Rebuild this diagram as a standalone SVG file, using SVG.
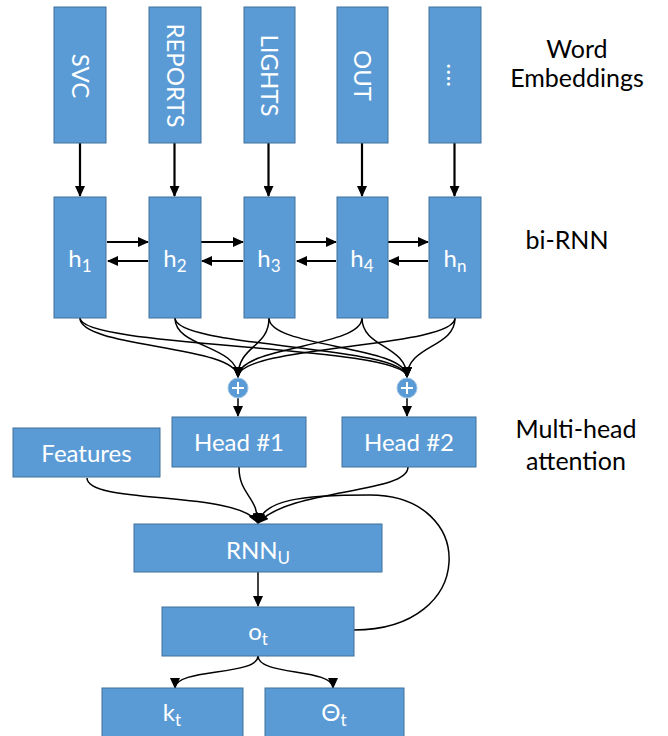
<svg xmlns="http://www.w3.org/2000/svg" width="668" height="736" viewBox="0 0 668 736">
<style>
.box{fill:#5B9BD5;stroke:#41719C;stroke-width:1}
.t{fill:#fff;font-family:Lato,"Open Sans",sans-serif;font-size:24px;text-anchor:middle}
.lbl{fill:#000;font-family:Lato,"Open Sans",sans-serif;font-size:25px;text-anchor:middle}
.c{fill:none;stroke:#000;stroke-width:1.5}
.a{fill:none;stroke:#000;stroke-width:2.2}
</style>
<defs>
<marker id="ah" markerUnits="userSpaceOnUse" markerWidth="11" markerHeight="10" refX="10" refY="5" orient="auto">
<path d="M0,0 L11,5 L0,10 z" fill="#000"/>
</marker>
</defs>
<rect width="668" height="736" fill="#fff"/>

<g id="connectors">
<path class="a" d="M80,143 V196" marker-end="url(#ah)"/>
<path class="a" d="M174.5,143 V196" marker-end="url(#ah)"/>
<path class="a" d="M268.5,143 V196" marker-end="url(#ah)"/>
<path class="a" d="M362,143 V196" marker-end="url(#ah)"/>
<path class="a" d="M454.5,143 V196" marker-end="url(#ah)"/>

<path class="a" d="M107,242 H148" marker-end="url(#ah)"/>
<path class="a" d="M201,242 H243" marker-end="url(#ah)"/>
<path class="a" d="M296,242 H336" marker-end="url(#ah)"/>
<path class="a" d="M388,242 H428" marker-end="url(#ah)"/>
<path class="a" d="M148,261 H108" marker-end="url(#ah)"/>
<path class="a" d="M243,261 H202" marker-end="url(#ah)"/>
<path class="a" d="M336,261 H297" marker-end="url(#ah)"/>
<path class="a" d="M428,261 H389" marker-end="url(#ah)"/>

<path class="c" d="M80,318 C80,348 238,345 238,377" marker-end="url(#ah)"/>
<path class="c" d="M175,318 C175,348 238,345 238,377" marker-end="url(#ah)"/>
<path class="c" d="M269,318 C269,348 238,345 238,377" marker-end="url(#ah)"/>
<path class="c" d="M362,318 C362,348 238,345 238,377" marker-end="url(#ah)"/>
<path class="c" d="M455,318 C455,348 238,345 238,377" marker-end="url(#ah)"/>
<path class="c" d="M80,318 C80,348 407,345 407,377" marker-end="url(#ah)"/>
<path class="c" d="M175,318 C175,348 407,345 407,377" marker-end="url(#ah)"/>
<path class="c" d="M269,318 C269,348 407,345 407,377" marker-end="url(#ah)"/>
<path class="c" d="M362,318 C362,348 407,345 407,377" marker-end="url(#ah)"/>
<path class="c" d="M455,318 C455,348 407,345 407,377" marker-end="url(#ah)"/>

<path class="c" d="M238,398 V416" marker-end="url(#ah)"/>
<path class="c" d="M407,398 V416" marker-end="url(#ah)"/>

<path class="c" d="M87,478 C87,505 240,490 258,523" marker-end="url(#ah)"/>
<path class="c" d="M239,467 C239,495 257,495 258,523" marker-end="url(#ah)"/>
<path class="c" d="M408,467 C408,494 290,488 258,523" marker-end="url(#ah)"/>
<path class="c" d="M354,630 C478,630 478,495 370,495 C300,495 264,500 258,523" marker-end="url(#ah)"/>

<path class="c" d="M258,572 V606" marker-end="url(#ah)"/>
<path class="c" d="M258,656 C258,676 175,668 175,688" marker-end="url(#ah)"/>
<path class="c" d="M258,656 C258,676 333,668 333,688" marker-end="url(#ah)"/>
</g>

<g id="emb-svc"><rect class="box" x="54" y="7" width="52" height="136"/><text class="t" transform="translate(80,76) rotate(90)" dy="8">SVC</text></g>
<g id="emb-reports"><rect class="box" x="149" y="7" width="52" height="136"/><text class="t" transform="translate(175,75.5) rotate(90)" dy="8">REPORTS</text></g>
<g id="emb-lights"><rect class="box" x="244" y="7" width="51" height="136"/><text class="t" transform="translate(269,75.5) rotate(90)" dy="8">LIGHTS</text></g>
<g id="emb-out"><rect class="box" x="337" y="7" width="51" height="136"/><text class="t" transform="translate(362,75.5) rotate(90)" dy="8">OUT</text></g>
<g id="emb-more"><rect class="box" x="429" y="7" width="52" height="136"/><text class="t" transform="translate(455,75) rotate(90)" dy="8">….</text></g>

<g id="h1"><rect class="box" x="54" y="197" width="52" height="121"/><text class="t" x="80" y="267">h<tspan font-size="17" dy="5">1</tspan></text></g>
<g id="h2"><rect class="box" x="149" y="197" width="52" height="121"/><text class="t" x="175" y="267">h<tspan font-size="17" dy="5">2</tspan></text></g>
<g id="h3"><rect class="box" x="244" y="197" width="51" height="121"/><text class="t" x="269" y="267">h<tspan font-size="17" dy="5">3</tspan></text></g>
<g id="h4"><rect class="box" x="337" y="197" width="51" height="121"/><text class="t" x="362" y="267">h<tspan font-size="17" dy="5">4</tspan></text></g>
<g id="hn"><rect class="box" x="429" y="197" width="52" height="121"/><text class="t" x="455" y="267">h<tspan font-size="17" dy="5">n</tspan></text></g>

<g id="plus1"><circle cx="238" cy="388" r="10" fill="#5B9BD5" stroke="#9DC3E6" stroke-width="1"/><path d="M232,388 H244 M238,382 V394" stroke="#fff" stroke-width="2"/></g>
<g id="plus2"><circle cx="407" cy="388" r="10" fill="#5B9BD5" stroke="#9DC3E6" stroke-width="1"/><path d="M401,388 H413 M407,382 V394" stroke="#fff" stroke-width="2"/></g>

<g id="features"><rect class="box" x="13" y="428" width="147" height="49"/><text class="t" x="86.5" y="462">Features</text></g>
<g id="head1"><rect class="box" x="172" y="417" width="134" height="50"/><text class="t" x="239" y="451">Head #1</text></g>
<g id="head2"><rect class="box" x="342" y="417" width="134" height="50"/><text class="t" x="409" y="451">Head #2</text></g>

<g id="rnnu"><rect class="box" x="134" y="524" width="248" height="48"/><text class="t" x="258" y="559">RNN<tspan font-size="17" dy="5">U</tspan></text></g>
<g id="ot"><rect class="box" x="162" y="607" width="192" height="49"/><text class="t" x="258" y="640">o<tspan font-size="17" dy="5">t</tspan></text></g>
<g id="kt"><rect class="box" x="102" y="688" width="141" height="60"/><text class="t" x="172" y="721">k<tspan font-size="17" dy="5">t</tspan></text></g>
<g id="thetat"><rect class="box" x="265" y="688" width="139" height="60"/><text class="t" x="334" y="721">Θ<tspan font-size="17" dy="5">t</tspan></text></g>

<g id="labels">
<text class="lbl" x="577" y="58">Word</text>
<text class="lbl" x="577" y="87">Embeddings</text>
<text class="lbl" x="567" y="249">bi-RNN</text>
<text class="lbl" x="576" y="438">Multi-head</text>
<text class="lbl" x="576" y="470">attention</text>
</g>
</svg>
